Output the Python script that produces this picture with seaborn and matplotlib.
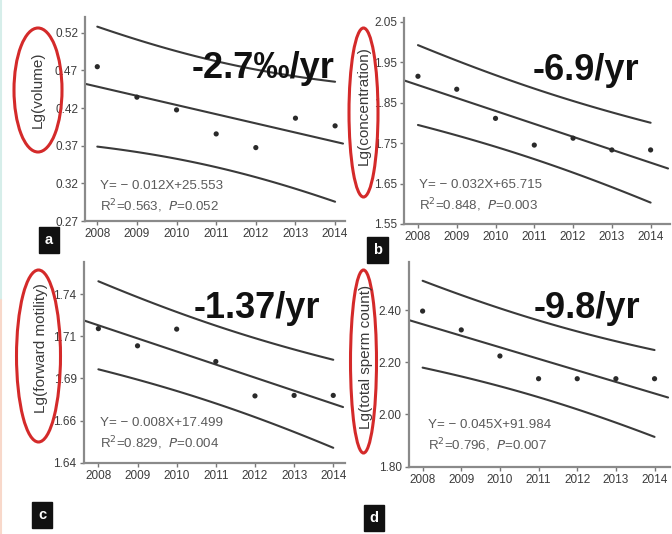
import numpy as np
import pandas as pd
import matplotlib
matplotlib.use("Agg")
import matplotlib.pyplot as plt
from matplotlib.patches import Ellipse
from matplotlib.lines import Line2D
import seaborn as sns

# ---- data -------------------------------------------------------------
years = [2008, 2009, 2010, 2011, 2012, 2013, 2014]

lg_volume = [0.475, 0.4345, 0.4176, 0.3857, 0.3675, 0.4066, 0.3964]
lg_concentration = [1.915, 1.883, 1.811, 1.745, 1.762, 1.733, 1.733]
lg_motility = [1.7145, 1.7043, 1.7142, 1.695, 1.6746, 1.6749, 1.6749]
lg_total_count = [2.396, 2.324, 2.224, 2.137, 2.137, 2.137, 2.137]

ylabels = ["Lg(volume)", "Lg(concentration)",
           "Lg(forward motility)", "Lg(total sperm count)"]
panel_letters = ["a", "b", "c", "d"]
trend_labels = ["-2.7\u2030/yr", "-6.9/yr", "-1.37/yr", "-9.8/yr"]
equations = ["Y= \u2212 0.012X+25.553", "Y= \u2212 0.032X+65.715",
             "Y= \u2212 0.008X+17.499", "Y= \u2212 0.045X+91.984"]
r2_values = ["0.563", "0.848", "0.829", "0.796"]
p_values = ["0.052", "0.003", "0.004", "0.007"]

yticks_a = [0.27, 0.32, 0.37, 0.42, 0.47, 0.52]
yticks_b = [1.55, 1.65, 1.75, 1.85, 1.95, 2.05]
yticks_c = [1.635, 1.66, 1.685, 1.71, 1.735]
yticklabels_c = ["1.64", "1.66", "1.69", "1.71", "1.74"]
yticks_d = [1.80, 2.00, 2.20, 2.40]

# Student t, two-sided 95 %, 5 degrees of freedom (n = 7 years)
T975_DF5 = 2.5706

# ---- style ------------------------------------------------------------
sns.set_style("ticks")
plt.rcParams["font.family"] = ["Liberation Sans", "DejaVu Sans"]

W, H = 672, 534
fig = plt.figure(figsize=(W / 100, H / 100), dpi=100)
fig.patch.set_facecolor("white")


def rect(left, top, right, bottom):
    return [left / W, 1 - bottom / H, (right - left) / W, (bottom - top) / H]


def fx(px):
    return px / W


def fy(py):
    return 1 - py / H


panels = [
    dict(values=lg_volume, box=rect(85, 17, 345, 221), xlim=(2007.69, 2014.25),
         ylim=(0.27, 0.541), yticks=yticks_a,
         yticklabels=[f"{v:.2f}" for v in yticks_a],
         ylab=(38, 90), ell=(38, 90, 48, 124), letter=(49, 240),
         trend=(263, 68), eq=(100, 186)),
    dict(values=lg_concentration, box=rect(404, 18, 670, 224), xlim=(2007.64, 2014.5),
         ylim=(1.55, 2.059), yticks=yticks_b,
         yticklabels=[f"{v:.2f}" for v in yticks_b],
         ylab=(364, 106), ell=(363.5, 112.5, 29, 169), letter=(377.5, 250),
         trend=(586, 71), eq=(419, 185)),
    dict(values=lg_motility, box=rect(83.5, 262, 345, 462.7), xlim=(2007.62, 2014.3),
         ylim=(1.635, 1.754), yticks=yticks_c, yticklabels=yticklabels_c,
         ylab=(41, 348), ell=(38.5, 356, 44, 172), letter=(42, 515),
         trend=(257, 308), eq=(100, 423)),
    dict(values=lg_total_count, box=rect(408.7, 262, 670, 466.7), xlim=(2007.64, 2014.4),
         ylim=(1.80, 2.584), yticks=yticks_d,
         yticklabels=[f"{v:.2f}" for v in yticks_d],
         ylab=(366, 357), ell=(363.5, 361.5, 26, 183), letter=(374, 518),
         trend=(587, 308), eq=(428, 425)),
]

line_col = "#3a3a3a"

for i, p in enumerate(panels):
    ax = fig.add_axes(p["box"])
    x = np.asarray(years, dtype=float)
    y = np.asarray(p["values"], dtype=float)
    n = len(x)

    # ordinary least squares fit with 95 % prediction band
    slope, icpt = np.polyfit(x, y, 1)
    resid = y - (slope * x + icpt)
    s = np.sqrt((resid ** 2).sum() / (n - 2))
    xm = x.mean()
    sxx = ((x - xm) ** 2).sum()

    xb = np.linspace(x.min(), x.max(), 60)
    half = T975_DF5 * s * np.sqrt(1 + 1 / n + (xb - xm) ** 2 / sxx)
    xf = np.linspace(p["xlim"][0], p["xlim"][1] - 0.05, 60)

    band = pd.DataFrame({"year": xb, "upper": slope * xb + icpt + half,
                         "lower": slope * xb + icpt - half})
    fit = pd.DataFrame({"year": xf, "fit": slope * xf + icpt})

    sns.lineplot(data=fit, x="year", y="fit", ax=ax, color=line_col, lw=1.5)
    sns.lineplot(data=band, x="year", y="upper", ax=ax, color=line_col, lw=1.5)
    sns.lineplot(data=band, x="year", y="lower", ax=ax, color=line_col, lw=1.5)
    sns.scatterplot(x=x, y=y, ax=ax, s=14, color="#2a2a2a", edgecolor="none",
                    zorder=4)

    ax.set_xlim(*p["xlim"])
    ax.set_ylim(*p["ylim"])
    ax.set_xticks(years)
    ax.set_xticklabels([str(v) for v in years])
    ax.set_yticks(p["yticks"])
    ax.set_yticklabels(p["yticklabels"])
    ax.set_xlabel("")
    ax.set_ylabel("")
    ax.tick_params(length=3, width=1, color="#777777", labelsize=8.5,
                   labelcolor="#3c3c3c", pad=2)
    sns.despine(ax=ax)
    for side in ("left", "bottom"):
        ax.spines[side].set_color("#8a8a8a")
        ax.spines[side].set_linewidth(1.6)
    ax.patch.set_alpha(0)

    # y-axis label with red ellipse round it
    fig.text(fx(p["ylab"][0]), fy(p["ylab"][1]), ylabels[i], rotation=90,
             ha="center", va="center", fontsize=11, color="#3a3a3a")
    cx, cy, ew, eh = p["ell"]
    fig.patches.append(Ellipse((fx(cx), fy(cy)), ew / W, eh / H,
                               transform=fig.transFigure, fill=False,
                               edgecolor="#d42a2a", lw=2.2))

    # panel letter in a black box
    fig.text(fx(p["letter"][0]), fy(p["letter"][1]), panel_letters[i],
             ha="center", va="center", fontsize=10.5, fontweight="bold",
             color="white",
             bbox=dict(boxstyle="square,pad=0.38", fc="#111111", ec="#111111"))

    # annual trend in large bold type
    fig.text(fx(p["trend"][0]), fy(p["trend"][1]), trend_labels[i],
             ha="center", va="center", fontsize=26, fontweight="bold",
             color="#111111")

    # regression equation and statistics
    ex, ey = p["eq"]
    fig.text(fx(ex), fy(ey), equations[i], ha="left", va="center",
             fontsize=9.6, color="#5a5a5a")
    fig.text(fx(ex), fy(ey + 20),
             f"R$^2$={r2_values[i]},  $\\it{{P}}$={p_values[i]}",
             ha="left", va="center", fontsize=9.6, color="#5a5a5a")

# thin coloured edge along the left border
fig.add_artist(Line2D([0.001, 0.001], [1.0, fy(300)], color="#d6eeea",
                      lw=1.5, transform=fig.transFigure))
fig.add_artist(Line2D([0.001, 0.001], [fy(300), 0.0], color="#f8d8ca",
                      lw=1.5, transform=fig.transFigure))

fig.savefig("out.png", dpi=100, facecolor="white")
